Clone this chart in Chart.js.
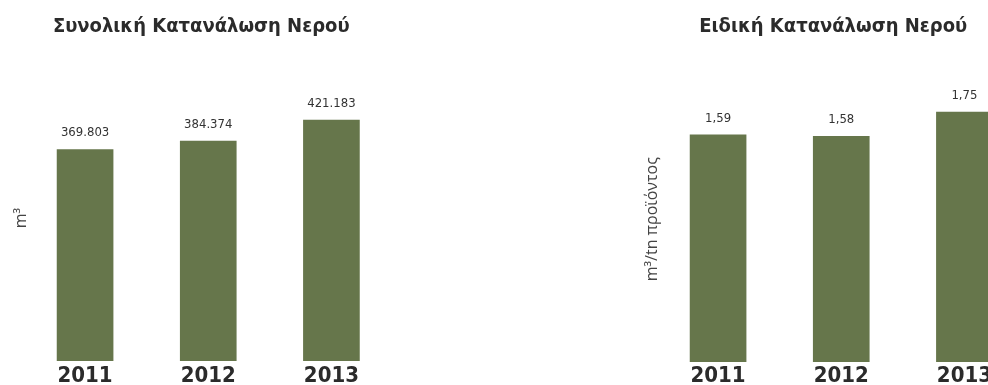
<!DOCTYPE html>
<html>
<head>
<meta charset="utf-8">
<script src="https://cdn.jsdelivr.net/npm/chart.js@4.4.1/dist/chart.umd.min.js"></script>
<style>
  html, body { margin: 0; padding: 0; background: #fff; overflow: hidden; }
  body { width: 988px; height: 385px; position: relative; }
  .box { position: absolute; top: 0; height: 385px; }
</style>
</head>
<body>
<div class="box" style="left:0; width:393px;"><canvas id="total"></canvas></div>
<div class="box" style="left:640px; width:386px;"><canvas id="specific"></canvas></div>
<script>
const years = ['2011', '2012', '2013'];
const totalWater = [369803, 384374, 421183];      // m3
const specificWater = [1.59, 1.58, 1.75];         // m3/tn προϊόντος

const BAR = '#66764b';
const TEXT = '#2b2b2b';
const NARROW = "'DejaVu Sans Condensed', 'Liberation Sans Narrow', sans-serif";

// values above the bars, greek number style
const valueLabels = {
  id: 'valueLabels',
  afterDatasetsDraw(chart, args, opts) {
    const ctx = chart.ctx;
    const meta = chart.getDatasetMeta(0);
    ctx.save();
    ctx.font = '13px ' + NARROW;
    ctx.fillStyle = '#333';
    ctx.textAlign = 'center';
    ctx.textBaseline = 'alphabetic';
    meta.data.forEach((bar, i) => {
      const v = chart.data.datasets[0].data[i];
      ctx.fillText(opts.format(v), bar.x, bar.y - 13);
    });
    ctx.restore();
  }
};

function makeChart(id, values, yMax, title, unit, pad) {
  return new Chart(document.getElementById(id), {
    type: 'bar',
    data: {
      labels: years,
      datasets: [{
        data: values,
        backgroundColor: BAR,
        barThickness: 56
      }]
    },
    plugins: [valueLabels],
    options: {
      responsive: true,
      maintainAspectRatio: false,
      animation: false,
      layout: { padding: { left: pad.left, right: 0, top: 0, bottom: 0 } },
      plugins: {
        legend: { display: false },
        tooltip: { enabled: false },
        title: {
          display: true,
          text: title,
          color: TEXT,
          font: { family: NARROW, size: 20, weight: 'bold', lineHeight: 1.2 },
          padding: { top: 15, bottom: pad.titleBottom }
        },
        valueLabels: { format: pad.format }
      },
      scales: {
        x: {
          grid: { display: false, drawTicks: false },
          border: { display: false },
          ticks: {
            color: TEXT,
            padding: pad.tickPad,
            font: { family: NARROW, size: 22, weight: 'bold', lineHeight: 1 }
          },
          // year labels sit tight under the bars, partly running off the bottom
          afterFit(scale) { scale.height = pad.axisHeight; }
        },
        y: {
          min: 0,
          max: yMax,
          grid: { display: false, drawTicks: false },
          border: { display: false },
          ticks: { display: false },
          title: {
            display: true,
            text: unit,
            color: '#444',
            font: { family: "'Open Sans', 'Noto Sans', sans-serif", size: 16, lineHeight: 1.2 },
            padding: { top: 1.9, bottom: pad.unitBottom }
          }
        }
      }
    }
  });
}

function dotThousands(v) {
  return String(v).replace(/\B(?=(\d{3})+(?!\d))/g, '.');
}

makeChart('total', totalWater, 500000, 'Συνολική Κατανάλωση Νερού', 'm³',
  { left: 9.5, titleBottom: 36, unitBottom: -7.1, tickPad: 4, axisHeight: 24, format: dotThousands });
makeChart('specific', specificWater, 2, 'Ειδική Κατανάλωση Νερού', 'm³/tn προϊόντος',
  { left: 0.5, titleBottom: 37.4, unitBottom: -5.1, tickPad: 3, axisHeight: 23, format: v => v.toFixed(2).replace('.', ',') });
</script>
</body>
</html>
